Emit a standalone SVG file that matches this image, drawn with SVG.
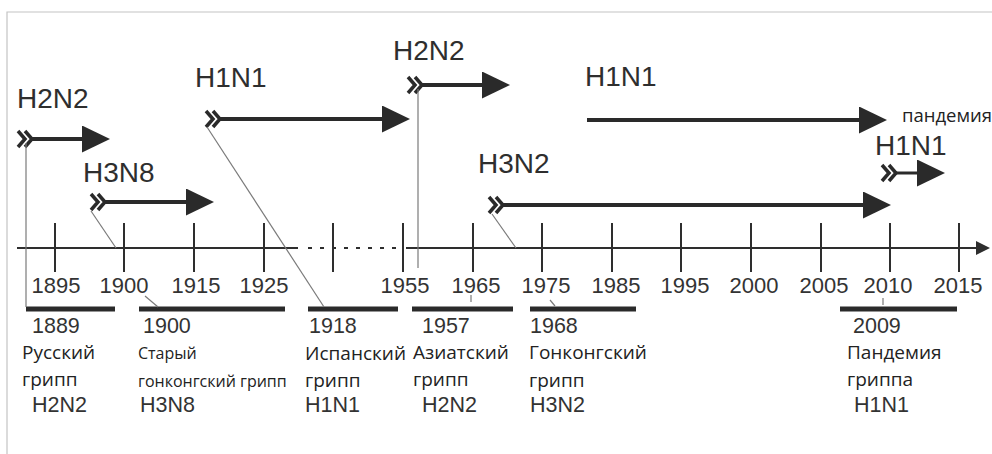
<svg xmlns="http://www.w3.org/2000/svg" width="992" height="454" viewBox="0 0 992 454">
<style>
.ax{stroke:#2e2e2e;stroke-width:2;fill:none}
.tk{stroke:#2e2e2e;stroke-width:2}
.yr{font-family:"Liberation Sans",Arial,sans-serif;font-size:22px;fill:#333;text-anchor:middle}
.hl{font-family:"Liberation Sans",Arial,sans-serif;font-size:28px;fill:#2e2e2e}
.hs{font-family:"Liberation Sans",Arial,sans-serif;font-size:21.5px;fill:#333}
.ru{font-family:"Open Sans","Noto Sans",sans-serif;font-size:19px;fill:#222}
.rs{font-family:"Open Sans","Noto Sans",sans-serif;font-size:16px;fill:#222}
.bar{stroke:#2a2a2a;stroke-width:5}
.arr{stroke:#2a2a2a;stroke-width:4;fill:none}
.thin{stroke:#7a7a7a;stroke-width:1.2;fill:none}
.frame{stroke:#c4c4c4;stroke-width:1.2;fill:none}
</style>
<defs>
<path id="chev" d="M1,-8 L8,0 L1,8 M8,-8 L15,0 L8,8" fill="none" stroke="#2a2a2a" stroke-width="3.5"/>
<marker id="head" markerUnits="userSpaceOnUse" markerWidth="28" markerHeight="28" viewBox="0 0 28 28" refX="1" refY="13.5" orient="auto">
<path d="M0,0 L28,13.5 L0,27 z" fill="#2a2a2a"/>
</marker>
<marker id="axhead" markerUnits="userSpaceOnUse" markerWidth="14" markerHeight="15" viewBox="0 0 14 15" refX="1" refY="7" orient="auto">
<path d="M0,0 L14,7 L0,14 z" fill="#2e2e2e"/>
</marker>
</defs>
<rect width="992" height="454" fill="#fff"/>
<path class="frame" d="M7,454 L7,12 L992,12"/>

<g id="axis">
<line class="ax" x1="17" y1="248" x2="298" y2="248"/>
<line class="ax" x1="308" y1="248" x2="400" y2="248" stroke-dasharray="4,8"/>
<line class="ax" x1="406" y1="248" x2="977" y2="248" marker-end="url(#axhead)"/>
<g class="tk">
<line x1="55" y1="223" x2="55" y2="272"/>
<line x1="124" y1="223" x2="124" y2="272"/>
<line x1="194" y1="223" x2="194" y2="272"/>
<line x1="264" y1="223" x2="264" y2="272"/>
<line x1="333" y1="223" x2="333" y2="272"/>
<line x1="403" y1="223" x2="403" y2="272"/>
<line x1="473" y1="223" x2="473" y2="272"/>
<line x1="542" y1="223" x2="542" y2="272"/>
<line x1="612" y1="223" x2="612" y2="272"/>
<line x1="681" y1="223" x2="681" y2="272"/>
<line x1="751" y1="223" x2="751" y2="272"/>
<line x1="821" y1="223" x2="821" y2="272"/>
<line x1="890" y1="223" x2="890" y2="272"/>
<line x1="959" y1="223" x2="959" y2="272"/>
</g>
<text class="yr" x="56" y="293">1895</text>
<text class="yr" x="124" y="293">1900</text>
<text class="yr" x="196" y="293">1915</text>
<text class="yr" x="264" y="293">1925</text>
<text class="yr" x="405" y="293">1955</text>
<text class="yr" x="476" y="293">1965</text>
<text class="yr" x="546" y="293">1975</text>
<text class="yr" x="616" y="293">1985</text>
<text class="yr" x="685" y="293">1995</text>
<text class="yr" x="754" y="293">2000</text>
<text class="yr" x="824" y="293">2005</text>
<text class="yr" x="888" y="293">2010</text>
<text class="yr" x="958" y="293">2015</text>
</g>

<g id="arrow-h2n2-1889">
<text class="hl" x="17" y="108">H2N2</text>
<use href="#chev" x="17" y="139"/>
<line class="arr" x1="31" y1="139" x2="83" y2="139" marker-end="url(#head)"/>
</g>
<g id="arrow-h3n8-1900">
<text class="hl" x="83" y="182">H3N8</text>
<use href="#chev" x="90" y="202"/>
<line class="arr" x1="104" y1="202" x2="187" y2="202" marker-end="url(#head)"/>
</g>
<g id="arrow-h1n1-1918">
<text class="hl" x="195" y="87">H1N1</text>
<use href="#chev" x="205" y="119"/>
<line class="arr" x1="219" y1="119" x2="383" y2="119" marker-end="url(#head)"/>
</g>
<g id="arrow-h2n2-1957">
<text class="hl" x="393" y="60">H2N2</text>
<use href="#chev" x="407" y="85"/>
<line class="arr" x1="421" y1="85" x2="483" y2="85" marker-end="url(#head)"/>
</g>
<g id="arrow-h1n1-long">
<text class="hl" x="585" y="86">H1N1</text>
<line class="arr" x1="587" y1="120" x2="860" y2="120" marker-end="url(#head)"/>
<text class="ru" x="902" y="122" style="font-size:18.5px">пандемия</text>
</g>
<g id="arrow-h3n2-1968">
<text class="hl" x="478" y="173">H3N2</text>
<use href="#chev" x="488" y="205"/>
<line class="arr" x1="502" y1="205" x2="864" y2="205" marker-end="url(#head)"/>
</g>
<g id="arrow-h1n1-2009">
<text class="hl" x="875" y="155">H1N1</text>
<use href="#chev" x="881" y="173"/>
<line class="arr" x1="895" y1="173" x2="918" y2="173" style="stroke-width:3" marker-end="url(#head)"/>
</g>

<g id="event-1889">
<line class="bar" x1="26" y1="309" x2="115" y2="309"/>
<text class="hs" x="32" y="333">1889</text>
<text class="ru" x="22" y="359">Русский</text>
<text class="ru" x="22" y="386">грипп</text>
<text class="hs" x="32" y="412">H2N2</text>
</g>
<g id="event-1900">
<line class="bar" x1="139" y1="309" x2="285" y2="309"/>
<text class="hs" x="143" y="333">1900</text>
<text class="rs" x="138" y="359">Старый</text>
<text class="rs" x="138" y="387">гонконгский грипп</text>
<text class="hs" x="140" y="412">H3N8</text>
</g>
<g id="event-1918">
<line class="bar" x1="308" y1="309" x2="398" y2="309"/>
<text class="hs" x="309" y="333">1918</text>
<text class="ru" x="305" y="360">Испанский</text>
<text class="ru" x="305" y="387">грипп</text>
<text class="hs" x="305" y="412">H1N1</text>
</g>
<g id="event-1957">
<line class="bar" x1="412" y1="309" x2="513" y2="309"/>
<text class="hs" x="422" y="333">1957</text>
<text class="ru" x="413" y="359">Азиатский</text>
<text class="ru" x="413" y="386">грипп</text>
<text class="hs" x="422" y="412">H2N2</text>
</g>
<g id="event-1968">
<line class="bar" x1="530" y1="309" x2="636" y2="309"/>
<text class="hs" x="530" y="333">1968</text>
<text class="ru" x="529" y="359">Гонконгский</text>
<text class="ru" x="529" y="387">грипп</text>
<text class="hs" x="530" y="412">H3N2</text>
</g>
<g id="event-2009">
<line class="bar" x1="840" y1="309" x2="957" y2="309"/>
<text class="hs" x="853" y="333">2009</text>
<text class="ru" x="847" y="359">Пандемия</text>
<text class="ru" x="847" y="386">гриппа</text>
<text class="hs" x="854" y="412">H1N1</text>
</g>

<g id="connectors">
<line class="thin" x1="26" y1="143" x2="26" y2="307"/>
<line class="thin" x1="91" y1="211" x2="116" y2="248"/>
<line class="thin" x1="145" y1="296" x2="158" y2="307"/>
<line class="thin" x1="207" y1="127" x2="324" y2="307"/>
<line class="thin" x1="418" y1="89" x2="418" y2="268"/>
<line class="thin" x1="471" y1="295" x2="471" y2="302"/>
<line class="thin" x1="492" y1="214" x2="516" y2="248"/>
<line class="thin" x1="550" y1="300" x2="555" y2="306"/>
<line class="thin" x1="883" y1="298" x2="883" y2="305"/>
</g>
</svg>
